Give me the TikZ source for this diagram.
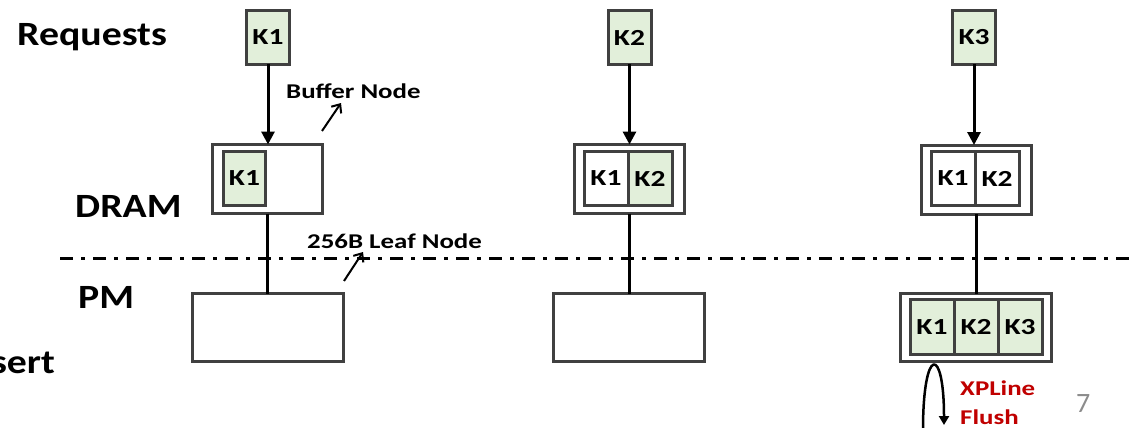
\documentclass[tikz,border=0pt]{standalone}
\usepackage{fontspec}
\setmainfont{Carlito}
\newfontfamily\tierfont[FakeStretch=1.17]{Carlito}
\newfontfamily\keyfont[FakeStretch=1.28]{Carlito}
\usetikzlibrary{arrows.meta}
\definecolor{keygreen}{HTML}{E2EFDA}
\definecolor{boxgray}{HTML}{404040}
\definecolor{flushred}{HTML}{C00000}
\definecolor{pagegray}{HTML}{8C8C8C}
\tikzset{
  keybox/.style={draw=boxgray, line width=3pt, inner sep=0pt, outer sep=0pt,
    minimum width=44pt, minimum height=54pt, font=\keyfont\fontsize{23}{23}\selectfont\bfseries},
  newkey/.style={keybox, fill=keygreen},
  oldkey/.style={keybox, fill=white},
  leafbox/.style={draw=boxgray, line width=3pt, inner sep=0pt, outer sep=0pt, fill=white},
  tier/.style={font=\tierfont\fontsize{34}{34}\selectfont\bfseries, inner sep=0pt},
  note/.style={font=\keyfont\fontsize{21}{21}\selectfont\bfseries, inner sep=0pt},
  req/.style={line width=3pt, -{Triangle[width=13pt,length=13pt]}},
  link/.style={line width=3pt},
  pointer/.style={line width=2pt, -{Straight Barb[width=12pt,length=7pt]}},
}
\begin{document}
\begin{tikzpicture}[x=1pt,y=-1pt]
  \useasboundingbox (0,0) rectangle (1130,428);
  % tiers
  \node [tier, anchor=base west] (reqlabel) at (17,46) {Requests};
  \node [tier, anchor=base west] (dramlabel) at (75,217) {DRAM};
  \node [tier, anchor=base west] (pmlabel) at (78,308) {PM};
  \node [tier, anchor=base east] (insertlabel) at (55,373) {Insert};
  \coordinate (divl) at (60,258);
  \coordinate (divr) at (1130,258);
  \draw [line width=3pt, dash pattern=on 13pt off 8pt on 4pt off 8pt] (divl) -- (divr);
  % incoming keys
  \node [newkey, minimum width=43pt] (req1) at (268,37.5) {K1};
  \node [newkey, minimum width=43pt] (req2) at (629.5,37.5) {K2};
  \node [newkey, minimum width=43pt] (req3) at (974,37.5) {K3};
  % buffer nodes in DRAM
  \node [leafbox, minimum width=110pt, minimum height=69pt] (buf1) at (267.5,179) {};
  \node [newkey, minimum width=42pt] (buf1k1) at (244.5,178.5) {K1};
  \node [leafbox, minimum width=110pt, minimum height=69pt] (buf2) at (629,179) {};
  \node [oldkey] (buf2k1) at (606,178.5) {K1};
  \node [newkey] (buf2k2) at (650,178.5) {K2};
  \node [leafbox, minimum width=110pt, minimum height=69pt] (buf3) at (976,179.5) {};
  \node [oldkey] (buf3k1) at (953,178.5) {K1};
  \node [oldkey] (buf3k2) at (997,178.5) {K2};
  % leaf nodes in PM
  \node [leafbox, minimum width=151pt, minimum height=68pt] (leaf1) at (268,327.5) {};
  \node [leafbox, minimum width=151pt, minimum height=68pt] (leaf2) at (628.5,327.5) {};
  \node [leafbox, minimum width=151pt, minimum height=68pt] (leaf3) at (976,327.5) {};
  \node [newkey, minimum height=55pt] (leaf3k1) at (932,327) {K1};
  \node [newkey, minimum height=55pt] (leaf3k2) at (976,327) {K2};
  \node [newkey, minimum height=55pt] (leaf3k3) at (1020,327) {K3};
  % connectors
  \draw [req] (req1.south) -- (req1.south |- buf1.north);
  \draw [req] (req2.south) -- (req2.south |- buf2.north);
  \draw [req] (req3.south) -- (req3.south |- buf3.north);
  \draw [link] (buf1.south) -- (buf1.south |- leaf1.north);
  \draw [link] (buf2.south) -- (buf2.south |- leaf2.north);
  \draw [link] (buf3.south) -- (buf3.south |- leaf3.north);
  % annotations
  \node [note, anchor=base west] (buffnote) at (286,99) {Buffer Node};
  \coordinate (bufftail) at (322,131);
  \coordinate (bufftip) at (341,103);
  \draw [pointer] (bufftail) -- (bufftip);
  \node [note, anchor=base west] (leafnote) at (307,248) {256B Leaf Node};
  \coordinate (leaftail) at (344,281);
  \coordinate (leaftip) at (363,252);
  \draw [pointer] (leaftail) -- (leaftip);
  \node [note, text=flushred, anchor=base west] (xplinenote) at (960,395) {XPLine};
  \node [note, text=flushred, anchor=base west] (flushnote) at (960,424) {Flush};
  \coordinate (loopstart) at (923,430);
  \coordinate (loopend) at (944,425);
  \draw [line width=2.5pt, -{Triangle[width=10pt,length=9pt]}] (loopstart) .. controls (923,345) and (944,345) .. (loopend);
  \node [font=\fontsize{28}{28}\selectfont, text=pagegray, anchor=base west, inner sep=0pt] (pagenum) at (1076,412) {7};
\end{tikzpicture}
\end{document}
